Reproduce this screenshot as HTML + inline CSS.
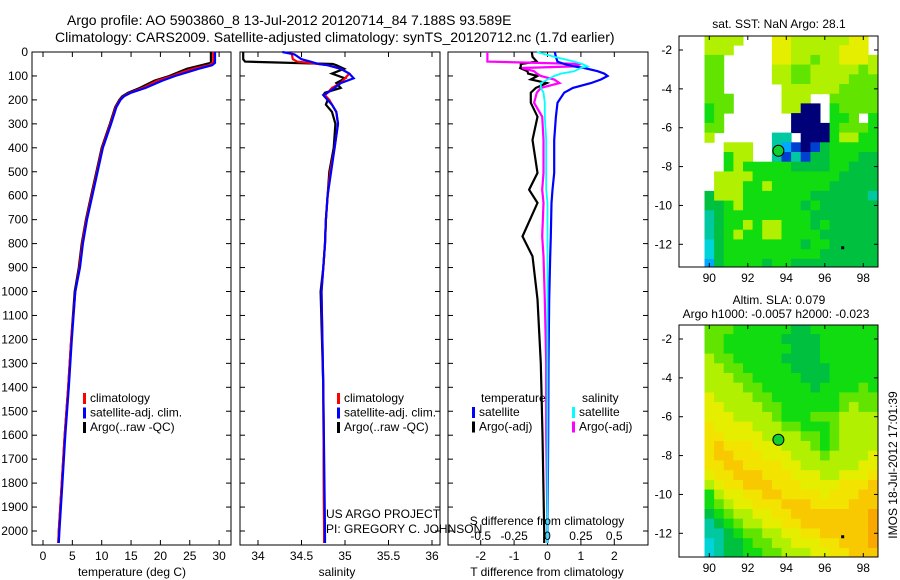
<!DOCTYPE html>
<html><head><meta charset="utf-8"><style>
body{margin:0;background:#fff}
svg{display:block;font-family:"Liberation Sans",sans-serif;font-size:12px}
</style></head><body>
<svg id="s" width="900" height="580" viewBox="0 0 900 580">
<text x="67" y="25" font-size="14">Argo profile: AO 5903860_8 13-Jul-2012 20120714_84 7.188S 93.589E</text>
<text x="55" y="42" font-size="14">Climatology: CARS2009. Satellite-adjusted climatology: synTS_20120712.nc (1.7d earlier)</text>
</svg>
<script>
// ---- data ----
const tDepth=[0,45,55,70,85,100,120,150,170,185,200,230,300,400,500,600,700,800,900,1000,1200,1400,1600,1800,2000,2050];
const tArgo=[28.6,28.6,27,24.5,23,21.5,19,16.5,14.5,13.5,13,12.3,11.4,10,9.1,8.2,7.3,6.6,6.1,5.4,4.8,4.3,3.7,3.2,2.7,2.6];
const tClim=[29.0,29.0,28.2,25.5,23.6,22.0,19.5,17.0,14.8,13.7,13.1,12.4,11.5,10.1,9.2,8.3,7.4,6.7,6.2,5.5,4.8,4.3,3.7,3.2,2.7,2.6];
const tSat=[29.3,29.3,28.8,26.5,24.5,22.5,20.3,17.5,15.0,13.8,13.2,12.5,11.6,10.2,9.3,8.4,7.5,6.8,6.3,5.5,4.9,4.4,3.8,3.3,2.8,2.7];
const sDepth=[0,10,30,40,50,55,70,90,110,130,150,170,180,200,220,250,300,400,500,600,700,800,900,1000,1400,2000,2050];
const sArgo=[33.83,33.83,33.83,33.85,34.86,34.9,34.99,34.85,35.0,34.9,34.95,34.77,34.75,34.8,34.78,34.85,34.89,34.87,34.82,34.8,34.78,34.77,34.75,34.72,34.75,34.76,34.76];
const sClim=[34.39,34.39,34.4,34.45,34.7,34.8,34.95,35.05,35.0,34.95,34.85,34.8,34.77,34.82,34.85,34.9,34.92,34.88,34.83,34.8,34.78,34.77,34.75,34.73,34.75,34.76,34.76];
const sSat=[34.28,34.42,34.5,34.6,34.7,34.8,34.95,35.05,35.1,34.95,34.88,34.8,34.75,34.8,34.85,34.9,34.92,34.88,34.84,34.8,34.78,34.77,34.75,34.73,34.75,34.77,34.77];
const dDepth=[0,20,40,50,60,67,80,90,100,115,130,150,170,212,270,367,505,575,630,770,853,1033,1300,1600,2000,2050];
const dTArgo=[-0.47,-0.45,-0.32,-0.8,-0.8,-0.82,-0.6,-0.58,-0.3,-0.5,-0.02,-0.35,-0.5,-0.5,-0.3,-0.45,-0.3,-0.55,-0.3,-0.75,-0.45,-0.3,-0.2,-0.15,-0.1,-0.1];
const dTSat=[0.22,0.25,0.3,0.5,0.8,1.1,1.5,1.7,1.8,1.6,1.3,0.76,0.5,0.3,0.25,0.2,0.2,0.15,0.12,0.1,0.08,0.05,0.03,0.02,0,0];
const dSSat=[-0.08,0.05,0.2,0.26,0.3,0.25,0.2,0.1,0.05,0,-0.05,-0.05,-0.03,-0.02,-0.02,-0.01,-0.01,-0.01,0,0,0,0,0,0,0,0];
const dSArgo=[-0.45,-0.45,-0.45,0.25,0.2,-0.19,-0.1,-0.08,-0.05,0.05,0.09,-0.05,-0.08,-0.1,-0.04,-0.03,-0.03,-0.04,-0.03,-0.04,-0.03,-0.02,-0.01,-0.01,0,0];
const depthTicks=[0,100,200,300,400,500,600,700,800,900,1000,1100,1200,1300,1400,1500,1600,1700,1800,1900,2000];
const tTicks=[0,5,10,15,20,25,30];
const sTicks=[34,34.5,35,35.5,36];
const sTickLabels=["34","34.5","35","35.5","36"];
const dtTicks=[-2,-1,0,1,2];
const dsTicks=[-0.5,-0.25,0,0.25,0.5];
const dsTickLabels=["-0.5","-0.25","0","0.25","0.5"];
const latTicks=[-2,-4,-6,-8,-10,-12];
const lonTicks=[90,92,94,96,98];
const gridLon0=89.75, gridLat0=-1.25, gridStep=0.5;
const sstRows=["LLLLWWWYYLLLLLLYYW","LLLWWWWYYLLLLLYYYW","GGWWWWWYYLLGLLYYYL","GGWWWWWLLGGLLLLLGL","GGWWWWWLLGGLLLLGGG","GGWWWWWWLLLLLLGGGG","GGGWWWWWLLLWWGGGGG","gGGWWWWWLLnnWgGGGG","gGWWWWWWWnnnWggGWg","GGWWWWWWWnnnngGGGg","LWWWWWWttWnnngLLgg","WWLLLWWtlbnbdggggg","WWgLLWWtbtbddgggdd","WWgLgggggddddggddd","WLLLLgggggggggdddd","WLLLggLggggggddddd","dLLLgggggggddddddt","ddgLggggggdgdddddd","tdgggggggggddddddd","tdggLgLLgggdgddddd","tdgLggLLggggdddddd","cdggggggggdggddddd","cdggggggggggdddddd","ldggggdggddddddddd"];
const slaRows=["GGGggggggddggggggg","GGggggggddddgggggg","GGgggggggdddgggggg","LGGgggggddddgggggg","LLGGgggggddddggggg","LLLGGgggggdddggggg","LLLLGGgggggdggggGg","YLLLLGGgggggggGGGG","YYLLLLGGggggggGLGG","YYYLLLLGgggGGGLLLL","yYYYYLLLGGgggGLLLL","yyYYYYLLLLGGgGLLLL","yoyyyYYYLLLGgGLLLL","yooyyyYYYLLLGLLLLY","yyooyyyyYYLLLLLLYY","YyyoooyyyYYYLLYYYy","LYyyoooyyyYYYYyyyo","gLYYyyooyyyyYyyyoo","gGLYYyyyoooyyyyooo","dgGLLYYyyooooooooO","tdgGLLYYyyoooooooO","ttdgGGLLYYyyoooooO","ctddgGGLLYYYyyoooO","ctddggGGLLLYYyyooo"];
const argoLon=93.589, argoLat=-7.188;
const cmap={W:"#ffffff",Y:"#e6ee00",y:"#f2e400",o:"#f8c800",O:"#f8a800",L:"#b0f000",G:"#60e400",g:"#10dc10",d:"#00c040",t:"#00c8a0",c:"#00d4d8",l:"#00a8ff",b:"#0040d0",n:"#000078"};

// ---- helpers ----
const NS="http://www.w3.org/2000/svg", S=document.getElementById('s');
function mk(tag,at,parent){const e=document.createElementNS(NS,tag);for(const k in at)e.setAttribute(k,at[k]);(parent||S).appendChild(e);return e;}
function txt(x,y,s,anchor,extra){const e=mk('text',Object.assign({x:x,y:y,'text-anchor':anchor||'start'},extra||{}));e.textContent=s;return e;}
const Y0=52,Y1=545; const yD=d=>Y0+d*0.2395;
function panel(name,x0,x1,xfun,xt,xtl,ytl){
  const g=mk('g',{});
  
  
  mk('rect',{x:x0,y:Y0,width:x1-x0,height:Y1-Y0,fill:'none',stroke:'#000','stroke-width':1},g);
  depthTicks.forEach(d=>{const y=yD(d);mk('line',{x1:x0,x2:x0+5,y1:y,y2:y,stroke:'#000'},g);mk('line',{x1:x1,x2:x1-5,y1:y,y2:y,stroke:'#000'},g);
    if(ytl){const t=txt(28,y+4,String(d),'end');}});
  xt.forEach((v,i)=>{const x=xfun(v);mk('line',{x1:x,x2:x,y1:Y0,y2:Y0+5,stroke:'#000'},g);mk('line',{x1:x,x2:x,y1:Y1,y2:Y1-5,stroke:'#000'},g);
    if(xtl){const t=txt(x,560,xtl[i],'middle');}});
  return g;
}
function line(xs,ds,xfun,color,name,w){
  const p=xs.map((v,i)=>xfun(v).toFixed(1)+','+yD(ds[i]).toFixed(1)).join(' ');
  const e=mk('polyline',{points:p,fill:'none',stroke:color,'stroke-width':w||2.2});
  
  
}
function clip(id,x0,x1,y0,y1){const c=mk('clipPath',{id:id});mk('rect',{x:x0,y:y0,width:x1-x0,height:y1-y0},c);}
function legend(x,y,items){items.forEach((it,i)=>{const yy=y+i*14.5;
  const m=mk('rect',{x:x,y:yy-9,width:3,height:11,fill:it[0]});
  const t=txt(x+7,yy,it[1]);});}

// ---- panel 1: temperature ----
const xT=v=>43+v*5.87;
panel('temperature-panel',32,231,xT,tTicks,tTicks.map(String),true);
clip('c1',32,231,Y0,Y1);
[[tArgo,'#000','argo-temp-line'],[tClim,'#f00','clim-temp-line'],[tSat,'#00f','sat-temp-line']].forEach(a=>{line(a[0],tDepth,xT,a[1],a[2]);});
let t=txt(132,576,'temperature (deg C)','middle');
legend(83,402,[['#f00','climatology'],['#00f','satellite-adj. clim.'],['#000','Argo(..raw -QC)']]);

// ---- panel 2: salinity ----
const xS=v=>258+(v-34)*87;
panel('salinity-panel',240,440,xS,sTicks,sTickLabels,false);
line(sArgo,sDepth,xS,'#000','argo-sal-line');
line(sClim,sDepth,xS,'#f00','clim-sal-line');
line(sSat,sDepth,xS,'#00f','sat-sal-line');
t=txt(337,576,'salinity','middle');
legend(337,402,[['#f00','climatology'],['#00f','satellite-adj. clim.'],['#000','Argo(..raw -QC)']]);
t=txt(326,518,'US ARGO PROJECT');
t=txt(326,533,'PI: GREGORY C. JOHNSON');

// ---- panel 3: differences ----
const xDT=v=>547.5+v*33.4, xDS=v=>547.5+v*133.5;
panel('difference-panel',448,648,xDT,dtTicks,dtTicks.map(String),false);
line(dTArgo,dDepth,xDT,'#000','argo-tdiff-line');
line(dSArgo,dDepth,xDS,'#f0f','argo-sdiff-line');
line(dTSat,dDepth,xDT,'#00f','sat-tdiff-line');
line(dSSat,dDepth,xDS,'#0ff','sat-sdiff-line',1.8);
dsTicks.forEach((v,i)=>{const tt=txt(xDS(v),540,dsTickLabels[i],'middle');});
t=txt(547,525,'S difference from climatology','middle');
t=txt(547,576,'T difference from climatology','middle');
t=txt(481,402,'temperature');
t=txt(582,402,'salinity');
legend(472,416,[['#00f','satellite'],['#000','Argo(-adj)']]);
legend(572,416,[['#0ff','satellite'],['#f0f','Argo(-adj)']]);

// ---- maps ----
function map(name,rows,top,bottom,title1,title2,cid){
  const X0=679,X1=878;
  const xL=lon=>709.3+(lon-90)*19.25;
  const yL=lat=>(top+14)+(-2-lat)*19.43;
  clip(cid,X0,X1,top,bottom);
  const g=mk('g',{'clip-path':'url(#'+cid+')'});
  
  
  rows.forEach((row,r)=>{for(let c=0;c<row.length;c++){const ch=row[c];if(ch==='W')continue;
    const lon=gridLon0+c*gridStep, lat=gridLat0-r*gridStep;
    const cell=mk('rect',{x:xL(lon).toFixed(1),y:yL(lat).toFixed(1),width:(gridStep*19.25+0.5).toFixed(1),height:(gridStep*19.43+0.5).toFixed(1),fill:cmap[ch]},g);
    
    }});
  const fr=mk('rect',{x:X0,y:top,width:X1-X0,height:bottom-top,fill:'none',stroke:'#000'});
  
  latTicks.forEach(v=>{const y=yL(v);mk('line',{x1:X0,x2:X0+4,y1:y,y2:y,stroke:'#000'});mk('line',{x1:X1,x2:X1-4,y1:y,y2:y,stroke:'#000'});
    const tt=txt(672,y+4,String(v),'end');});
  lonTicks.forEach(v=>{const x=xL(v);mk('line',{x1:x,x2:x,y1:top,y2:top+4,stroke:'#000'});mk('line',{x1:x,x2:x,y1:bottom,y2:bottom-4,stroke:'#000'});
    const tt=txt(x,bottom+15,String(v),'middle');});
  const m=mk('circle',{cx:xL(argoLon),cy:yL(argoLat),r:5.5,fill:'#10d030',stroke:'#000'});
  
  mk('rect',{x:xL(96.85),y:yL(-12.1),width:3,height:3,fill:'#000'});
  const t1=txt(779,top-(title2?21:8),title1,'middle');
  if(title2){const t2=txt(776,top-7,title2,'middle');}
}
map('sst-map',sstRows,36,267,'sat. SST: NaN Argo: 28.1',null,'cm1');
map('sla-map',slaRows,325,557,'Altim. SLA: 0.079','Argo h1000: -0.0057 h2000: -0.023','cm2');
t=txt(0,0,'IMOS 18-Jul-2012 17:01:39','middle',{transform:'translate(897,465) rotate(-90)'});

</script>
</body></html>
